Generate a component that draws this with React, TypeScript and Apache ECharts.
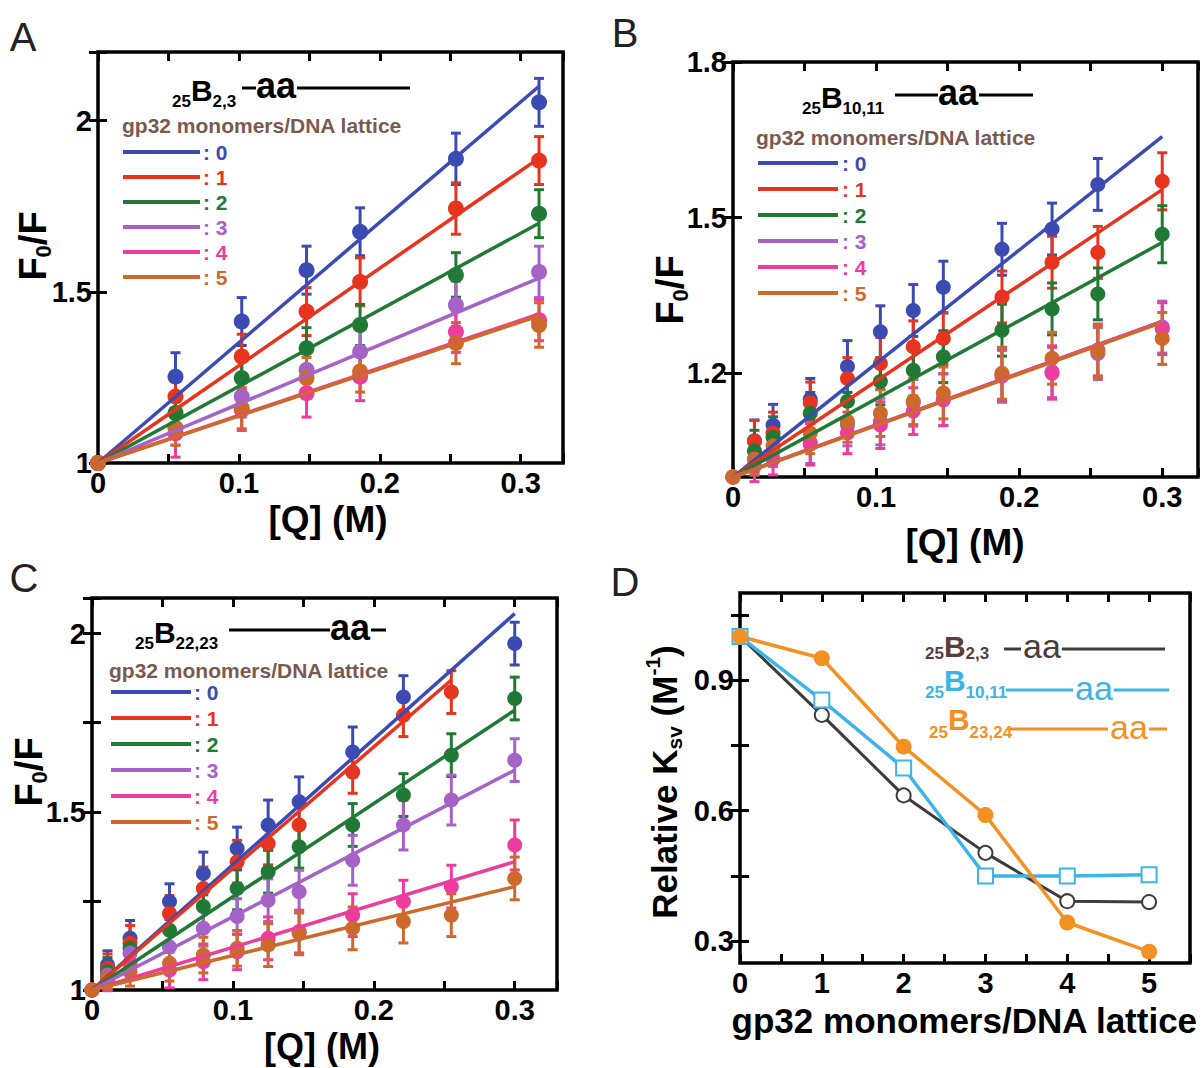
import React, { useEffect, useRef } from 'react';
import * as echarts from 'echarts';

const FONT = '"Liberation Sans", Arial, Helvetica, sans-serif';

const LEVELS = ['0', '1', '2', '3', '4', '5'];
const COLORS = ['#3b4bb3', '#e6341f', '#207a35', '#a563c8', '#ec3c9e', '#cd6a2b'];
const LEGEND_TITLE = 'gp32 monomers/DNA lattice';

// ---------- Panel A : 25B2,3 ----------
const A_Q = [0, 0.055, 0.102, 0.148, 0.186, 0.254, 0.313];
const A_L0 = [1, 1.252, 1.413, 1.563, 1.675, 1.888, 2.053];
const A_L1 = [1, 1.194, 1.311, 1.442, 1.529, 1.743, 1.883];
const A_L2 = [1, 1.146, 1.248, 1.335, 1.403, 1.549, 1.728];
const A_L3 = [1, 1.102, 1.194, 1.272, 1.325, 1.461, 1.558];
const A_L4 = [1, 1.087, 1.155, 1.204, 1.252, 1.383, 1.417];
const A_L5 = [1, 1.102, 1.16, 1.248, 1.267, 1.35, 1.403];
const A_E0 = [0, 0.07, 0.07, 0.07, 0.07, 0.075, 0.07];
const A_E1 = [0, 0.06, 0.065, 0.07, 0.07, 0.075, 0.07];
const A_E2 = [0, 0.05, 0.06, 0.06, 0.06, 0.065, 0.07];
const A_E3 = [0, 0.05, 0.06, 0.06, 0.065, 0.07, 0.075];
const A_E4 = [0, 0.07, 0.06, 0.07, 0.07, 0.06, 0.06];
const A_E5 = [0, 0.05, 0.06, 0.06, 0.06, 0.06, 0.065];
const A_FIT_X = [0.313, 0.313, 0.313, 0.313, 0.313, 0.313];
const A_FIT_Y = [2.1, 1.89, 1.7, 1.54, 1.435, 1.43];

// ---------- Panel B : 25B10,11 ----------
const B_Q = [0, 0.015, 0.028, 0.054, 0.08, 0.103, 0.126, 0.147, 0.188, 0.223, 0.255, 0.3];
const B_L0 = [1, 1.07, 1.1, 1.15, 1.213, 1.28, 1.321, 1.366, 1.439, 1.478, 1.564, null];
const B_L1 = [1, 1.069, 1.085, 1.143, 1.19, 1.219, 1.251, 1.267, 1.347, 1.414, 1.433, 1.57];
const B_L2 = [1, 1.05, 1.076, 1.123, 1.146, 1.184, 1.206, 1.232, 1.283, 1.324, 1.353, 1.468];
const B_L3 = [1, 1.034, 1.05, 1.066, 1.1, 1.107, 1.143, 1.149, 1.194, 1.203, 1.238, 1.289];
const B_L4 = [1, 1.021, 1.034, 1.063, 1.085, 1.1, 1.127, 1.149, 1.197, 1.2, 1.245, 1.286];
const B_L5 = [1, 1.034, 1.06, 1.085, 1.107, 1.123, 1.146, 1.162, 1.2, 1.229, 1.242, 1.267];
const B_E0 = [0, 0.04, 0.04, 0.04, 0.05, 0.05, 0.05, 0.05, 0.05, 0.05, 0.05, 0];
const B_E1 = [0, 0.04, 0.04, 0.04, 0.04, 0.05, 0.05, 0.05, 0.05, 0.05, 0.05, 0.055];
const B_E2 = [0, 0.04, 0.04, 0.04, 0.04, 0.045, 0.05, 0.05, 0.05, 0.05, 0.05, 0.055];
const B_E3 = [0, 0.03, 0.03, 0.04, 0.04, 0.045, 0.045, 0.05, 0.05, 0.05, 0.05, 0.05];
const B_E4 = [0, 0.03, 0.03, 0.04, 0.04, 0.045, 0.045, 0.05, 0.05, 0.05, 0.05, 0.05];
const B_E5 = [0, 0.03, 0.03, 0.04, 0.04, 0.045, 0.045, 0.05, 0.05, 0.05, 0.05, 0.05];
const B_FIT_X = [0.3, 0.3, 0.3, 0.3, 0.3, 0.3];
const B_FIT_Y = [1.656, 1.554, 1.452, 1.3, 1.3, 1.298];

// ---------- Panel C : 25B22,23 ----------
const C_Q = [0, 0.011, 0.027, 0.055, 0.079, 0.103, 0.125, 0.147, 0.185, 0.221, 0.255, 0.3];
const C_L0 = [1, 1.07, 1.145, 1.248, 1.327, 1.397, 1.463, 1.528, 1.668, 1.822, null, 1.972];
const C_L1 = [1, 1.061, 1.131, 1.215, 1.285, 1.36, 1.411, 1.463, 1.612, 1.771, 1.836, null];
const C_L2 = [1, 1.051, 1.117, 1.168, 1.234, 1.285, 1.332, 1.402, 1.463, 1.547, 1.659, 1.818];
const C_L3 = [1, 1.042, 1.103, 1.121, 1.173, 1.206, 1.252, 1.276, 1.364, 1.463, 1.533, 1.645];
const C_L4 = [1, 1.028, 1.075, 1.056, 1.079, 1.107, 1.145, 1.164, 1.21, 1.248, 1.29, 1.407];
const C_L5 = [1, 1.033, 1.051, 1.075, 1.098, 1.117, 1.126, 1.159, 1.173, 1.192, 1.21, 1.313];
const C_E0 = [0, 0.04, 0.05, 0.05, 0.06, 0.06, 0.07, 0.07, 0.07, 0.06, 0, 0.06];
const C_E1 = [0, 0.04, 0.05, 0.05, 0.06, 0.06, 0.06, 0.06, 0.06, 0.06, 0.06, 0];
const C_E2 = [0, 0.04, 0.04, 0.05, 0.05, 0.06, 0.06, 0.06, 0.06, 0.06, 0.06, 0.06];
const C_E3 = [0, 0.04, 0.04, 0.05, 0.05, 0.05, 0.06, 0.06, 0.07, 0.07, 0.07, 0.06];
const C_E4 = [0, 0.03, 0.04, 0.05, 0.05, 0.05, 0.06, 0.06, 0.06, 0.06, 0.06, 0.07];
const C_E5 = [0, 0.03, 0.04, 0.05, 0.05, 0.05, 0.06, 0.06, 0.06, 0.06, 0.06, 0.06];
const C_FIT_X = [0.3, 0.255, 0.3, 0.3, 0.3, 0.3];
const C_FIT_Y = [2.056, 1.87, 1.785, 1.617, 1.36, 1.29];

// ---------- Panel D : relative Ksv ----------
const D_X = [0, 1, 2, 3, 4, 5];
const D_B23 = [1.0, 0.82, 0.635, 0.503, 0.392, 0.39];
const D_B1011 = [1.0, 0.854, 0.698, 0.45, 0.45, 0.453];
const D_B2324 = [1.0, 0.95, 0.747, 0.59, 0.343, 0.276];
const D_COLORS = ['#3c3c3c', '#3cb4e8', '#f39122'];

// ---------- helpers ----------
let mctx: CanvasRenderingContext2D | null = null;
function textWidth(t: string, size: number, weight: string = 'bold') {
  if (!mctx) mctx = document.createElement('canvas').getContext('2d');
  mctx!.font = `${weight} ${size}px ${FONT}`;
  return mctx!.measureText(t).width;
}
function txt(x: number, y: number, t: string, size: number, color: string, weight: string = 'bold', align: string = 'left') {
  return {
    type: 'text', x, y, silent: true,
    style: { text: t, fill: color, fontSize: size, fontWeight: weight, fontFamily: FONT, align, verticalAlign: 'middle' },
  };
}
function seg(x1: number, y1: number, x2: number, y2: number, color: string, w: number) {
  return { type: 'line', silent: true, shape: { x1, y1, x2, y2 }, style: { stroke: color, lineWidth: w } };
}
type Part = { t: string; size: number; dy?: number; weight?: string; color?: string };
function runText(parts: Part[], cx: number, cy: number, rotation = 0) {
  const widths = parts.map((p) => textWidth(p.t, p.size, p.weight || 'bold'));
  const total = widths.reduce((a, b) => a + b, 0);
  let x = -total / 2;
  const children = parts.map((p, i) => {
    const el = txt(x, p.dy || 0, p.t, p.size, p.color || '#000', p.weight || 'bold');
    x += widths[i];
    return el;
  });
  return { type: 'group', x: cx, y: cy, rotation, children };
}
type Header = {
  x: number; bY: number; subY: number; lineY: number; aaY: number; sub: string;
  pre: [number, number]; aaX: number; postEnd: number;
  textColor: string; lineColor: string; aaColor: string; aaWeight: string;
  bSize: number; subSize: number; aaSize: number; lineW: number;
};
function header(h: Header) {
  const w25 = textWidth('25', h.subSize);
  const wB = textWidth('B', h.bSize);
  const wa = textWidth('aa', h.aaSize, h.aaWeight);
  return [
    txt(h.x, h.subY, '25', h.subSize, h.textColor),
    txt(h.x + w25, h.bY, 'B', h.bSize, h.textColor),
    txt(h.x + w25 + wB, h.subY, h.sub, h.subSize, h.textColor),
    seg(h.pre[0], h.lineY, h.pre[1], h.lineY, h.lineColor, h.lineW),
    txt(h.aaX, h.aaY, 'aa', h.aaSize, h.aaColor, h.aaWeight),
    seg(h.aaX + wa + 1, h.lineY, h.postEnd, h.lineY, h.lineColor, h.lineW),
  ];
}
function legend(titleX: number, titleY: number, rows: number[], lx1: number, lx2: number, labX: number) {
  const els: any[] = [txt(titleX, titleY, LEGEND_TITLE, 21, '#7a5a50')];
  rows.forEach((y, i) => {
    els.push(seg(lx1, y, lx2, y, COLORS[i], 4));
    els.push(txt(labX, y, ': ' + LEVELS[i], 21, COLORS[i]));
  });
  return els;
}

const fmtTenth = (v: number) => {
  const r = Math.round(v * 10);
  return Math.abs(v * 10 - r) < 1e-6 ? String(r / 10) : '';
};
const fmtHalf = (v: number) => {
  const r = Math.round(v * 2);
  return Math.abs(v * 2 - r) < 1e-6 ? String(r / 2) : '';
};
const fmtInt = (v: number) => (Math.abs(v - Math.round(v)) < 1e-6 ? String(Math.round(v)) : '');
const fmtOne = (v: number) => v.toFixed(1);

const tick = () => ({ show: true, inside: true, length: 9, lineStyle: { color: '#000', width: 3 } });
const lbl = { color: '#000', fontSize: 29, fontWeight: 'bold', fontFamily: FONT, margin: 5 };

function xPair(g: number, min: number, max: number, interval: number, fmt: any) {
  const base = { type: 'value', gridIndex: g, min, max, interval, axisLine: { show: false }, splitLine: { show: false } };
  return [
    { ...base, position: 'bottom', axisTick: tick(), axisLabel: { ...lbl, formatter: fmt } },
    { ...base, position: 'top', axisTick: tick(), axisLabel: { show: false } },
  ];
}
function yPair(g: number, min: number, max: number, interval: number | undefined, fmt: any, ticks?: number[], labels?: number[]) {
  const base: any = { type: 'value', gridIndex: g, min, max, axisLine: { show: false }, splitLine: { show: false } };
  if (interval !== undefined) base.interval = interval;
  const t: any = tick();
  const l: any = { ...lbl, formatter: fmt, margin: 6 };
  if (ticks) { t.customValues = ticks; l.customValues = labels; }
  return [
    { ...base, position: 'left', axisTick: t, axisLabel: l },
    { ...base, position: 'right', axisTick: { ...t }, axisLabel: { show: false } },
  ];
}

function errorBar(color: string) {
  return (params: any, api: any) => {
    const x = api.value(0), y = api.value(1), e = api.value(2);
    const top = api.coord([x, y + e]);
    const bot = api.coord([x, y - e]);
    const w = 5;
    const st = { stroke: color, lineWidth: 3 };
    return {
      type: 'group',
      children: [
        { type: 'line', shape: { x1: top[0], y1: top[1], x2: bot[0], y2: bot[1] }, style: st },
        { type: 'line', shape: { x1: top[0] - w, y1: top[1], x2: top[0] + w, y2: top[1] }, style: st },
        { type: 'line', shape: { x1: bot[0] - w, y1: bot[1], x2: bot[0] + w, y2: bot[1] }, style: st },
      ],
    };
  };
}

function panelSeries(g: number, Q: number[], vals: (number | null)[][], errs: number[][], fitX: number[], fitY: number[], sym: number) {
  const s: any[] = [];
  vals.forEach((arr, i) => {
    const c = COLORS[i];
    const pts: number[][] = [];
    Q.forEach((q, j) => { if (arr[j] != null) pts.push([q, arr[j] as number, errs[i][j]]); });
    s.push({
      type: 'line', xAxisIndex: 2 * g, yAxisIndex: 2 * g, data: [[0, 1], [fitX[i], fitY[i]]],
      showSymbol: false, symbol: 'none', lineStyle: { color: c, width: 3.5 }, silent: true,
    });
    s.push({
      type: 'custom', xAxisIndex: 2 * g, yAxisIndex: 2 * g, data: pts.filter((p) => p[2] > 0),
      renderItem: errorBar(c), encode: { x: 0, y: 1 }, silent: true,
    });
    s.push({
      type: 'scatter', xAxisIndex: 2 * g, yAxisIndex: 2 * g, data: pts.map((p) => [p[0], p[1]]),
      symbol: 'circle', symbolSize: sym, itemStyle: { color: c, opacity: 1 }, silent: true,
    });
  });
  return s;
}

function buildOption() {
  const grids = [
    { left: 98, top: 52, width: 465, height: 411 },
    { left: 733, top: 62, width: 465, height: 415 },
    { left: 92, top: 598, width: 465, height: 392 },
    { left: 740, top: 593, width: 450, height: 370 },
  ].map((g) => ({ ...g, show: true, borderColor: '#000', borderWidth: 3.5, backgroundColor: 'transparent' }));

  const xAxis = [
    ...xPair(0, 0, 0.33, 0.05, fmtTenth),
    ...xPair(1, 0, 0.325, 0.05, fmtTenth),
    ...xPair(2, 0, 0.33, 0.05, fmtTenth),
    ...xPair(3, 0, 5.5, 0.5, fmtInt),
  ];
  const yAxis = [
    ...yPair(0, 1, 2.2, 0.5, fmtHalf),
    ...yPair(1, 1, 1.8, undefined, fmtOne, [1.2, 1.5, 1.8], [1.2, 1.5, 1.8]),
    ...yPair(2, 1, 2.1, 0.25, fmtHalf),
    ...yPair(3, 0.25, 1.1, undefined, fmtOne, [0.3, 0.45, 0.6, 0.75, 0.9, 1.05], [0.3, 0.6, 0.9]),
  ];

  const series: any[] = [
    ...panelSeries(0, A_Q, [A_L0, A_L1, A_L2, A_L3, A_L4, A_L5], [A_E0, A_E1, A_E2, A_E3, A_E4, A_E5], A_FIT_X, A_FIT_Y, 16),
    ...panelSeries(1, B_Q, [B_L0, B_L1, B_L2, B_L3, B_L4, B_L5], [B_E0, B_E1, B_E2, B_E3, B_E4, B_E5], B_FIT_X, B_FIT_Y, 15),
    ...panelSeries(2, C_Q, [C_L0, C_L1, C_L2, C_L3, C_L4, C_L5], [C_E0, C_E1, C_E2, C_E3, C_E4, C_E5], C_FIT_X, C_FIT_Y, 15),
    {
      type: 'line', xAxisIndex: 6, yAxisIndex: 6, data: D_X.map((x, i) => [x, D_B23[i]]),
      symbol: 'emptyCircle', symbolSize: 14, lineStyle: { color: D_COLORS[0], width: 3 },
      itemStyle: { color: D_COLORS[0], borderWidth: 2 }, silent: true,
    },
    {
      type: 'line', xAxisIndex: 6, yAxisIndex: 6, data: D_X.map((x, i) => [x, D_B1011[i]]),
      symbol: 'emptyRect', symbolSize: 15, lineStyle: { color: D_COLORS[1], width: 3.5 },
      itemStyle: { color: D_COLORS[1], borderWidth: 2.5 }, silent: true,
    },
    {
      type: 'line', xAxisIndex: 6, yAxisIndex: 6, data: D_X.map((x, i) => [x, D_B2324[i]]),
      symbol: 'circle', symbolSize: 16, lineStyle: { color: D_COLORS[2], width: 3.5 },
      itemStyle: { color: D_COLORS[2] }, silent: true,
    },
  ];

  const hdr = { bSize: 30, subSize: 17, aaSize: 36, lineW: 3, textColor: '#000', lineColor: '#000', aaColor: '#000', aaWeight: 'bold' };
  const dHdr = { bSize: 30, subSize: 17, aaSize: 34, lineW: 3, aaWeight: 'normal' };
  const F0F = (size: number): Part[] => [{ t: 'F', size }, { t: '0', size: 22, dy: 10 }, { t: '/F', size }];
  const graphic: any[] = [
    // panel letters
    txt(23, 37, 'A', 40, '#222', 'normal', 'center'),
    txt(625, 33, 'B', 40, '#222', 'normal', 'center'),
    txt(24, 578, 'C', 40, '#222', 'normal', 'center'),
    txt(625, 582, 'D', 40, '#222', 'normal', 'center'),
    // axis titles
    runText(F0F(38), 33, 246, Math.PI / 2),
    runText(F0F(38), 670, 290, Math.PI / 2),
    runText(F0F(38), 29, 772, Math.PI / 2),
    runText([
      { t: 'Relative K', size: 35 }, { t: 'sv', size: 21, dy: 10 }, { t: ' (M', size: 35 },
      { t: '-1', size: 21, dy: -12 }, { t: ')', size: 35 },
    ], 664, 782, Math.PI / 2),
    runText([{ t: '[Q] (M)', size: 37 }], 328, 519),
    runText([{ t: '[Q] (M)', size: 37 }], 965, 542),
    runText([{ t: '[Q] (M)', size: 36 }], 322, 1046),
    runText([{ t: 'gp32 monomers/DNA lattice', size: 35 }], 965, 1020),
    // panel headers
    ...header({ ...hdr, x: 172, lineY: 88, bY: 90, subY: 101, aaY: 85, sub: '2,3', pre: [242, 256], aaX: 256, postEnd: 410 }),
    ...header({ ...hdr, x: 802, lineY: 95, bY: 97, subY: 108, aaY: 92, sub: '10,11', pre: [895, 938], aaX: 938, postEnd: 1033 }),
    ...header({ ...hdr, x: 135, lineY: 630, bY: 632, subY: 643, aaY: 627, sub: '22,23', pre: [229, 330], aaX: 330, postEnd: 386 }),
    // legends
    ...legend(122, 125, [152, 177, 202, 227, 252, 277], 123, 200, 203),
    ...legend(756, 137, [163, 189, 215, 241, 267, 293], 758, 838, 842),
    ...legend(109, 670, [692, 718, 744, 770, 796, 822], 111, 191, 194),
    // panel D legend
    ...header({
      ...dHdr, x: 925, bY: 646, subY: 653, lineY: 649, aaY: 646, sub: '2,3', pre: [1004, 1021], aaX: 1023, postEnd: 1165,
      textColor: '#5c3d3d', lineColor: '#3c3c3c', aaColor: '#4a3a3a',
    }),
    ...header({
      ...dHdr, x: 925, bY: 680, subY: 692, lineY: 690, aaY: 688, sub: '10,11', pre: [1006, 1073], aaX: 1075, postEnd: 1169,
      textColor: D_COLORS[1], lineColor: D_COLORS[1], aaColor: D_COLORS[1],
    }),
    ...header({
      ...dHdr, x: 929, bY: 719, subY: 732, lineY: 729, aaY: 727, sub: '23,24', pre: [1010, 1108], aaX: 1110, postEnd: 1167,
      textColor: D_COLORS[2], lineColor: D_COLORS[2], aaColor: D_COLORS[2],
    }),
  ];

  return {
    animation: false,
    backgroundColor: '#fff',
    textStyle: { fontFamily: FONT },
    grid: grids,
    xAxis,
    yAxis,
    series,
    graphic: { elements: graphic },
  };
}

export default function App() {
  const ref = useRef<HTMLDivElement>(null);
  useEffect(() => {
    document.body.style.margin = '0';
    const chart = echarts.init(ref.current!, undefined, { renderer: 'svg' });
    chart.setOption(buildOption() as any);
    return () => chart.dispose();
  }, []);
  return <div ref={ref} style={{ width: 1204, height: 1068 }} />;
}
